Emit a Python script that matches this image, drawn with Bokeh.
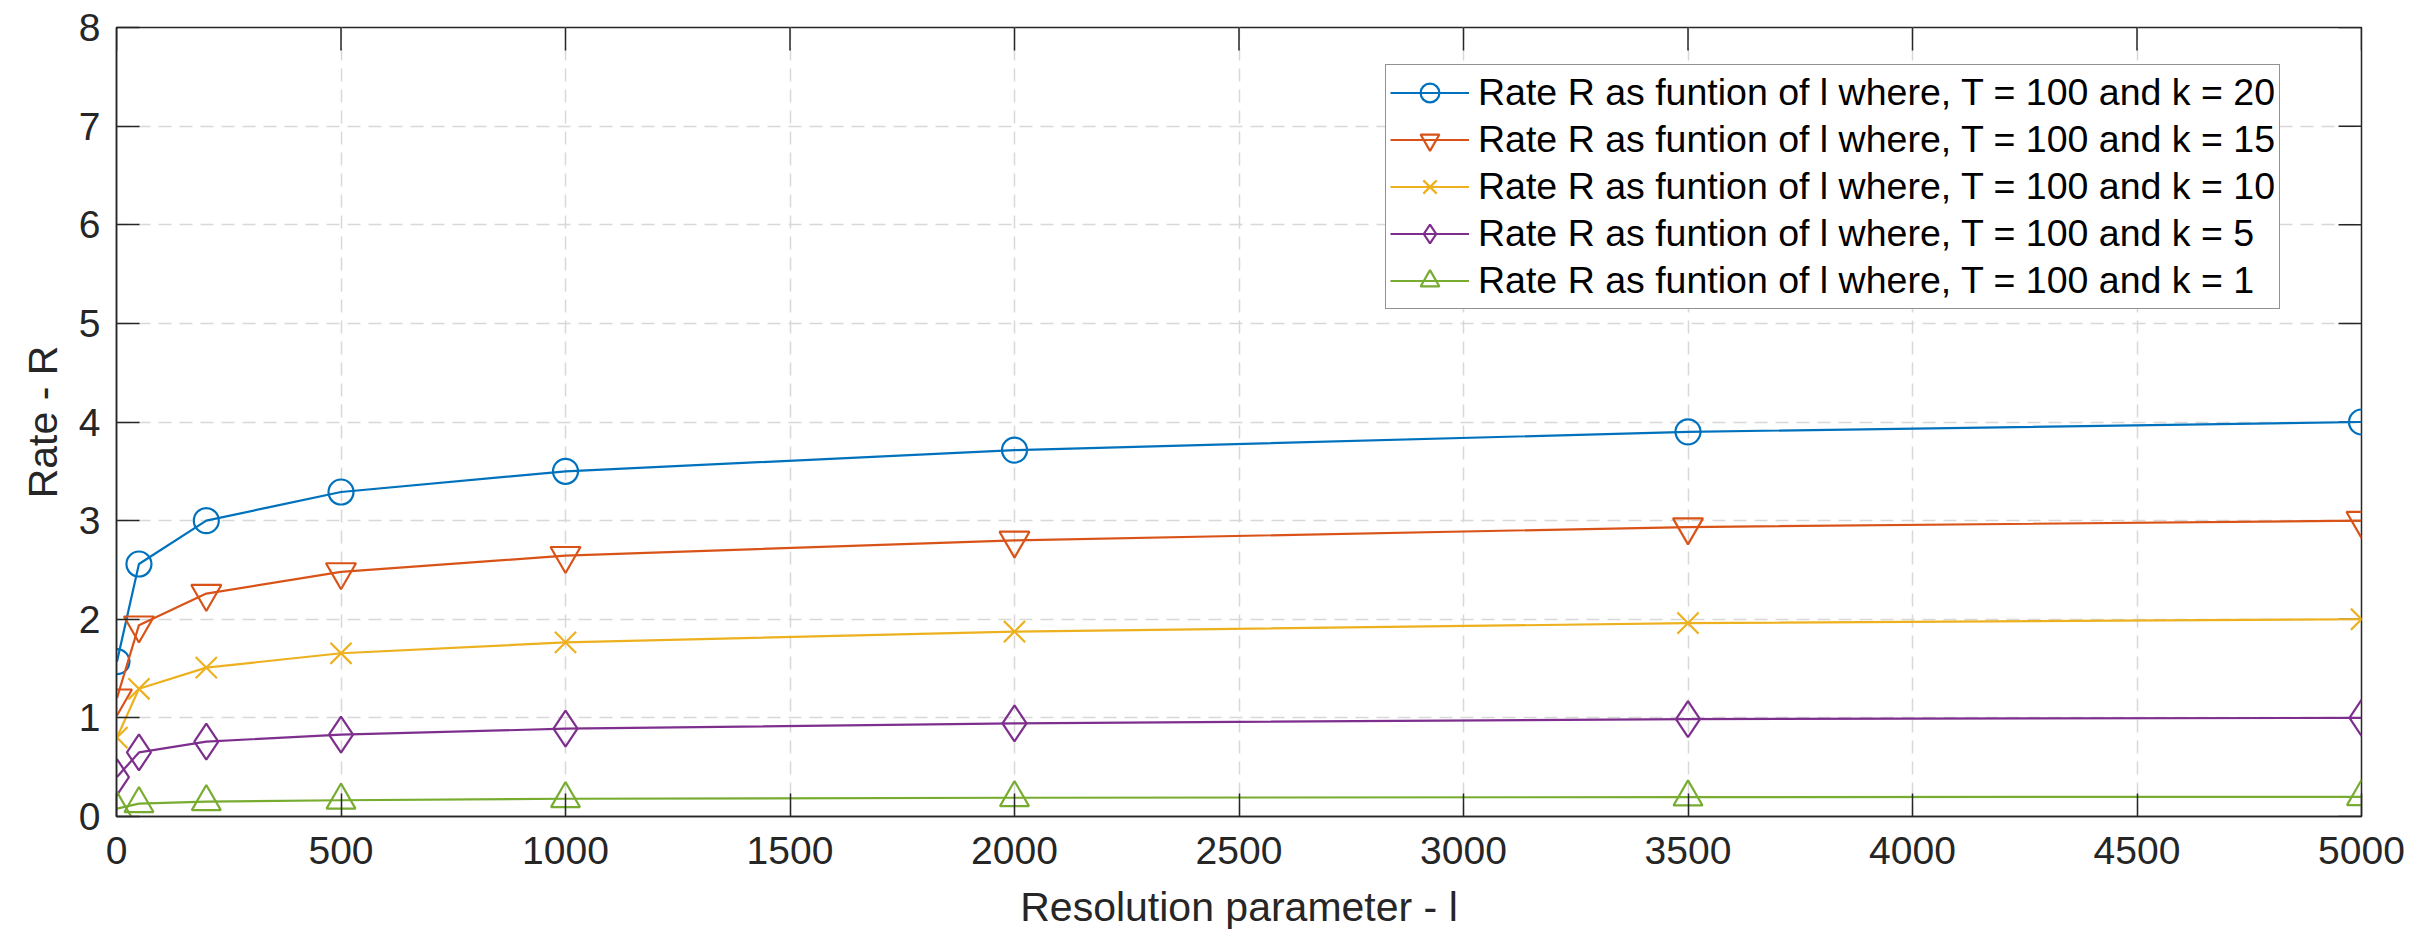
import math
from bokeh.plotting import figure
from bokeh.models import Range1d, FixedTicker, Legend, LegendItem
from bokeh.embed import file_html
from bokeh.resources import INLINE

# Data
l_values = [1, 50, 200, 500, 1000, 2000, 3500, 5000]
rate_k20 = [1.57, 2.56, 3.00, 3.29, 3.50, 3.715, 3.90, 4.00]
rate_k15 = [1.20, 1.94, 2.26, 2.48, 2.645, 2.80, 2.935, 3.00]
rate_k10 = [0.80, 1.295, 1.51, 1.655, 1.765, 1.875, 1.96, 2.00]
rate_k5 = [0.40, 0.65, 0.76, 0.83, 0.89, 0.945, 0.988, 1.00]
rate_k1 = [0.08, 0.13, 0.15, 0.165, 0.18, 0.19, 0.197, 0.20]

series_labels = [
    "Rate R as funtion of l where, T = 100 and k = 20",
    "Rate R as funtion of l where, T = 100 and k = 15",
    "Rate R as funtion of l where, T = 100 and k = 10",
    "Rate R as funtion of l where, T = 100 and k = 5",
    "Rate R as funtion of l where, T = 100 and k = 1",
]
x_ticks = [0, 500, 1000, 1500, 2000, 2500, 3000, 3500, 4000, 4500, 5000]
y_ticks = [0, 1, 2, 3, 4, 5, 6, 7, 8]

colors = ["#0072BD", "#D95319", "#EDB120", "#7E2F8E", "#77AC30"]
markers = ["circle", "inverted_triangle", "x", "diamond", "triangle"]
msizes = [25, 30, 30, 36, 29]

FONT = "Liberation Sans"
AX = "#262626"

p = figure(width=2421, height=936, output_backend="svg", toolbar_location=None,
           x_range=Range1d(0, 5000), y_range=Range1d(0, 8),
           min_border_left=116, min_border_right=60, min_border_top=27,
           min_border_bottom=120, x_axis_label="Resolution parameter - l",
           y_axis_label="Rate - R")
p.background_fill_color = "white"
p.border_fill_color = "white"
p.outline_line_color = AX
p.outline_line_width = 1.5

for ax, ticks in ((p.xaxis[0], x_ticks), (p.yaxis[0], y_ticks)):
    ax.ticker = FixedTicker(ticks=ticks)
    ax.major_tick_in = 23
    ax.major_tick_out = 0
    ax.minor_tick_in = 0
    ax.minor_tick_out = 0
    ax.axis_line_color = AX
    ax.axis_line_width = 1.5
    ax.major_tick_line_color = AX
    ax.major_tick_line_width = 1.5
    ax.major_label_text_font = FONT
    ax.major_label_text_font_size = "39px"
    ax.major_label_text_color = AX
    ax.axis_label_text_font = FONT
    ax.axis_label_text_font_size = "41px"
    ax.axis_label_text_font_style = "normal"
    ax.axis_label_text_color = AX

p.xaxis[0].major_label_standoff = 20
p.xaxis[0].axis_label_standoff = 17
p.yaxis[0].major_label_standoff = 16
p.yaxis[0].axis_label_standoff = 10

# mirrored inward ticks on the top and right frame edges
p.ray(x=x_ticks, y=y_ticks[-1], length=23, length_units="screen",
      angle=-math.pi / 2, line_color=AX, line_width=1.5)
p.ray(x=x_ticks[-1], y=y_ticks, length=23, length_units="screen",
      angle=math.pi, line_color=AX, line_width=1.5)

for g in (p.xgrid[0], p.ygrid[0]):
    g.grid_line_color = "#d8d8d8"
    g.grid_line_dash = "13 8"
    g.grid_line_width = 1.5
p.xgrid[0].ticker = FixedTicker(ticks=x_ticks)
p.ygrid[0].ticker = FixedTicker(ticks=y_ticks)

all_series = [rate_k20, rate_k15, rate_k10, rate_k5, rate_k1]
items = []
for ys, lab, c, m, s in zip(all_series, series_labels, colors, markers, msizes):
    r1 = p.line(l_values, ys, line_color=c, line_width=2.2)
    r2 = p.scatter(l_values, ys, marker=m, size=s, line_color=c, fill_color=None,
                   line_width=2.2)
    items.append(LegendItem(label=lab, renderers=[r1, r2]))

legend = Legend(items=items, location=(1269, 507))
legend.label_text_font = FONT
legend.label_text_font_size = "37.5px"
legend.label_text_color = "#000000"
legend.glyph_width = 79
legend.glyph_height = 47
legend.label_height = 47
legend.label_standoff = 9
legend.spacing = 0
legend.padding = 4
legend.margin = 0
legend.border_line_color = AX
legend.border_line_width = 1.5
legend.background_fill_color = "white"
legend.background_fill_alpha = 1.0
p.add_layout(legend, "center")

open("out.html", "w").write(file_html(p, INLINE))
